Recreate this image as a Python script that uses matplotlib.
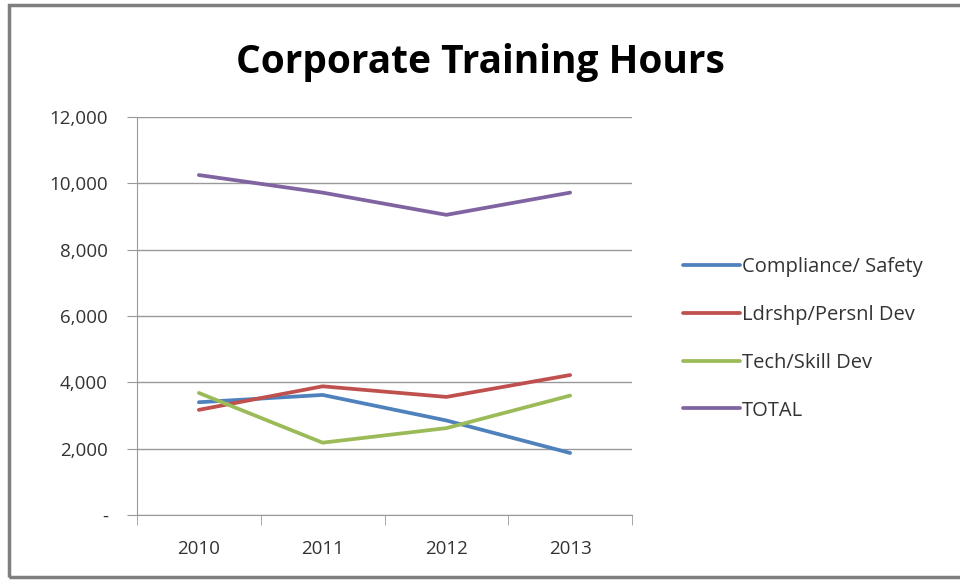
import matplotlib.pyplot as plt
from matplotlib.patches import Rectangle

# data
years = ['2010', '2011', '2012', '2013']
compliance = [3400, 3620, 2850, 1870]
leadership = [3170, 3880, 3560, 4220]
tech_skill = [3680, 2180, 2620, 3600]
total = [10250, 9720, 9050, 9720]

series_names = ['Compliance/ Safety', 'Ldrshp/Persnl Dev', 'Tech/Skill Dev', 'TOTAL']
series_colors = ['#4F81BD', '#C0504D', '#9BBB59', '#8064A2']

y_ticks = [0, 2000, 4000, 6000, 8000, 10000, 12000]
y_labels = ['-', '2,000', '4,000', '6,000', '8,000', '10,000', '12,000']

plt.rcParams['font.family'] = ['Open Sans', 'DejaVu Sans']

fig = plt.figure(figsize=(9.6, 5.8), dpi=100)
ax = fig.add_axes([137 / 960, 1 - 515 / 580, (632 - 137) / 960, (515 - 117) / 580])

x = range(len(years))
for vals, name, col in zip([compliance, leadership, tech_skill, total], series_names, series_colors):
    ax.plot(x, vals, color=col, lw=2.7, label=name, solid_capstyle='round')

ax.set_xlim(-0.5, 3.5)
ax.set_ylim(0, 12000)
ax.set_yticks(y_ticks)
ax.set_yticklabels(y_labels, fontsize=13.5, color='#333333')
ax.set_xticks(list(x))
ax.set_xticklabels(years, fontsize=13.5, color='#333333')
ax.set_xticks([-0.5, 0.5, 1.5, 2.5, 3.5], minor=True)
ax.tick_params(axis='x', which='major', length=0, pad=18)
ax.tick_params(axis='x', which='minor', length=7, color='#999999', direction='out')
ax.tick_params(axis='y', length=7, color='#999999', pad=14, direction='out')
ax.grid(axis='y', color='#999999', lw=1)
ax.set_axisbelow(True)
for s in ['top', 'right']:
    ax.spines[s].set_visible(False)
for s in ['left', 'bottom']:
    ax.spines[s].set_color('#999999')

fig.text(0.5, 0.892, 'Corporate Training Hours', ha='center', va='center',
         fontsize=28, fontweight='bold', color='black')

fig.legend(loc='upper left', bbox_to_anchor=(665 / 960, 1 - 239 / 580), frameon=False,
           fontsize=14.5, handlelength=2.8, handletextpad=0.1, labelspacing=1.38,
           labelcolor='#333333')

# chart frame
fig.patches.append(Rectangle((9 / 960, 3 / 580), 1.0, 1 - 8 / 580, transform=fig.transFigure,
                             fill=False, edgecolor='#7f7f7f', lw=2.5))

fig.savefig('out.png', dpi=100)
